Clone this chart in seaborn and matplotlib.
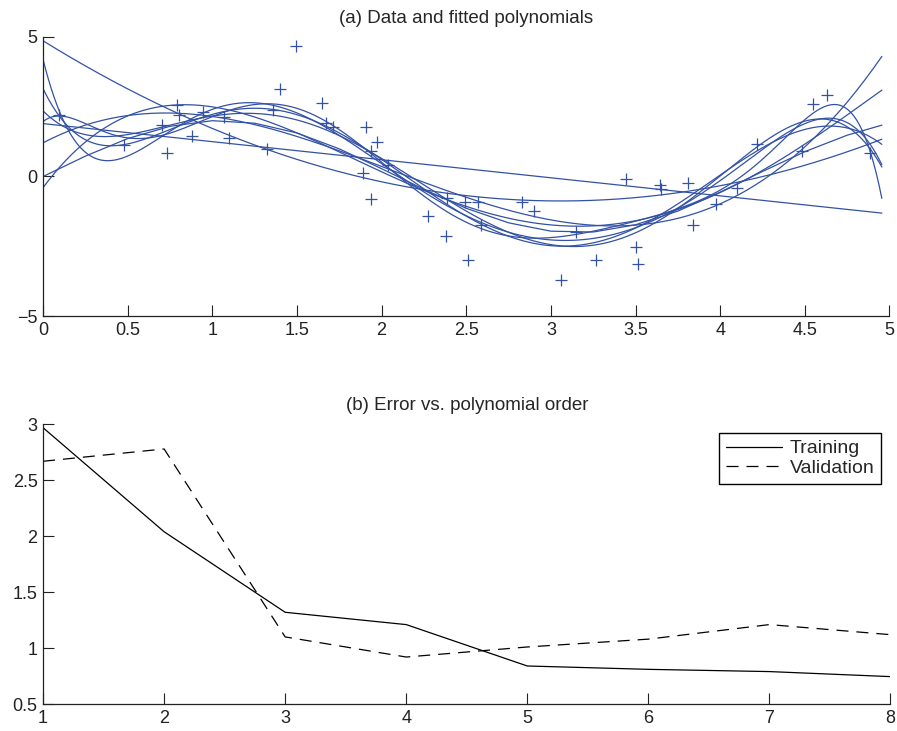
import numpy as np
import pandas as pd
import matplotlib
matplotlib.use("Agg")
import matplotlib.pyplot as plt
import seaborn as sns

# (a) noisy samples
x_pts = [0.097, 0.481, 0.700, 0.731, 0.792, 0.806, 0.881, 0.942, 1.070, 1.098,
         1.324, 1.360, 1.399, 1.497, 1.649, 1.669, 1.714, 1.888, 1.905, 1.935,
         1.940, 1.970, 2.040, 2.272, 2.380, 2.388, 2.490, 2.508, 2.571, 2.585,
         2.827, 2.900, 3.060, 3.148, 3.265, 3.444, 3.501, 3.517, 3.645, 3.649,
         3.812, 3.838, 3.976, 4.098, 4.220, 4.482, 4.547, 4.630, 4.886]
y_pts = [2.19, 1.14, 1.83, 0.84, 2.57, 2.19, 1.44, 2.31, 2.15, 1.38,
         0.99, 2.39, 3.15, 4.66, 2.63, 1.92, 1.79, 0.14, 1.79, -0.80,
         0.92, 1.23, 0.40, -1.40, -2.12, -0.78, -0.90, -2.99, -0.90, -1.73,
         -0.92, -1.25, -3.71, -2.00, -2.99, -0.08, -2.51, -3.14, -0.30, -0.44,
         -0.24, -1.73, -0.98, -0.42, 1.16, 0.92, 2.60, 2.93, 0.84]
poly_orders = [1, 2, 3, 4, 5, 6, 7, 8]

# underlying curve (the smooth one without noise), read at steps along x
true_x = [0, 0.25, 0.5, 0.75, 1.0, 1.25, 1.5, 1.75, 2.0, 2.25, 2.5,
          2.75, 3.0, 3.25, 3.5, 3.75, 4.0, 4.25, 4.5, 4.75, 4.955]
true_y = [0.0, 0.73, 1.36, 1.80, 2.0, 1.91, 1.56, 0.99, 0.28, -0.46, -1.14,
          -1.66, -1.96, -1.99, -1.73, -1.24, -0.56, 0.18, 0.89, 1.48, 1.84]

# (b) error vs. polynomial order
orders = [1, 2, 3, 4, 5, 6, 7, 8]
train_err = [2.97, 2.04, 1.32, 1.21, 0.84, 0.81, 0.79, 0.745]
valid_err = [2.67, 2.78, 1.10, 0.92, 1.01, 1.08, 1.21, 1.12]

sns.set_theme(style="ticks")
plt.rcParams["font.family"] = ["Liberation Sans", "DejaVu Sans"]
plt.rcParams["xtick.direction"] = "in"
plt.rcParams["ytick.direction"] = "in"

blue = "#3352a6"
fig = plt.figure(figsize=(8.97, 7.31), dpi=100)
ax1 = fig.add_axes([0.048, 0.5677, 0.9436, 0.3817])
ax2 = fig.add_axes([0.048, 0.0369, 0.9447, 0.3826])

# fitted polynomials
grid = np.linspace(0, 4.955, 300)
rows = []
for k in poly_orders:
    coef = np.polyfit(x_pts, y_pts, k)
    for gx, gy in zip(grid, np.polyval(coef, grid)):
        rows.append((k, gx, gy))
fits = pd.DataFrame(rows, columns=["order", "x", "y"])
sns.lineplot(data=fits, x="x", y="y", units="order", estimator=None,
             color=blue, lw=0.9, ax=ax1, sort=False)
sns.lineplot(x=true_x, y=true_y, color=blue, lw=0.9, ax=ax1)
sns.scatterplot(x=x_pts, y=y_pts, marker="+", s=72, color=blue,
                linewidth=0.9, ax=ax1)
ax1.set_xlim(0, 5)
ax1.set_ylim(-5, 5)
ax1.set_xticks([0, 0.5, 1, 1.5, 2, 2.5, 3, 3.5, 4, 4.5, 5])
ax1.set_xticklabels(["0", "0.5", "1", "1.5", "2", "2.5", "3", "3.5", "4", "4.5", "5"])
ax1.set_yticks([-5, 0, 5])
ax1.set_yticklabels(["\u22125", "0", "5"])
ax1.set_title("(a) Data and fitted polynomials", fontsize=13.5, pad=10)

# errors
sns.lineplot(x=orders, y=train_err, color="black", lw=0.9, ax=ax2, label="Training")
sns.lineplot(x=orders, y=valid_err, color="black", lw=0.9, ax=ax2, label="Validation",
             linestyle=(0, (9.6, 6.4)))
ax2.set_xlim(1, 8)
ax2.set_ylim(0.5, 3)
ax2.set_xticks(orders)
ax2.set_yticks([0.5, 1, 1.5, 2, 2.5, 3])
ax2.set_yticklabels(["0.5", "1", "1.5", "2", "2.5", "3"])
ax2.set_title("(b) Error vs. polynomial order", fontsize=13.5, pad=10)
leg = ax2.legend(loc="upper right", bbox_to_anchor=(0.9894, 0.969), borderaxespad=0,
                 fontsize=14, handlelength=2.9, labelspacing=0.1, borderpad=0.35,
                 handletextpad=0.4, fancybox=False, framealpha=1)
leg.get_frame().set_edgecolor("black")
leg.get_frame().set_linewidth(1.0)

for ax in (ax1, ax2):
    ax.set_xlabel("")
    ax.set_ylabel("")
    sns.despine(ax=ax)
    ax.tick_params(labelsize=13, length=8, width=0.8, pad=4, colors="#222222")
    for s in ("left", "bottom"):
        ax.spines[s].set_linewidth(0.9)
        ax.spines[s].set_color("#222222")

fig.savefig("out.png", dpi=100)
